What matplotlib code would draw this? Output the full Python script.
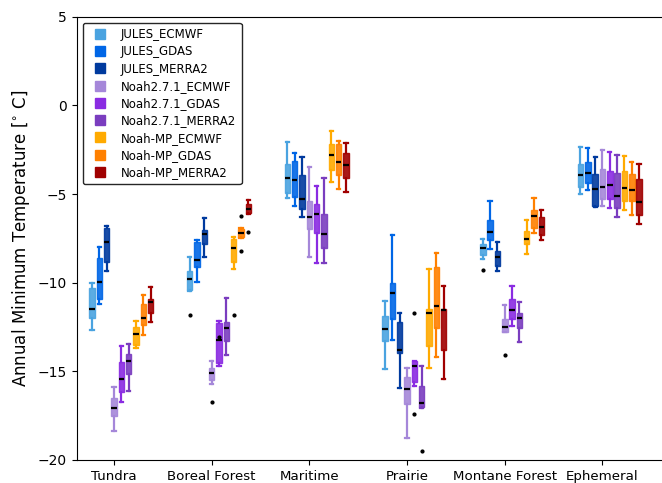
import matplotlib
matplotlib.use("Agg")
import matplotlib.pyplot as plt
from matplotlib.lines import Line2D

regions = ['Tundra', 'Boreal Forest', 'Maritime', 'Prairie', 'Montane Forest', 'Ephemeral']
series = ['JULES_ECMWF', 'JULES_GDAS', 'JULES_MERRA2',
          'Noah2.7.1_ECMWF', 'Noah2.7.1_GDAS', 'Noah2.7.1_MERRA2',
          'Noah-MP_ECMWF', 'Noah-MP_GDAS', 'Noah-MP_MERRA2']
colors = ['#4aa3e0', '#0066e6', '#003a9e',
          '#a587d9', '#8a2be2', '#7a3dbf',
          '#ffaa00', '#ff8000', '#a00000']

# (whisker low, q1, median, q3, whisker high) for each region
jules_ecmwf = [(-12.70, -12.00, -11.48, -10.31, -10.03),
               (-10.45, -10.41, -9.79, -9.33, -8.53),
               (-5.23, -4.95, -4.07, -3.30, -2.05),
               (-14.86, -13.27, -12.61, -11.86, -11.01),
               (-8.66, -8.43, -8.05, -7.83, -7.53),
               (-4.99, -4.61, -3.92, -3.31, -2.32)]
jules_gdas = [(-11.20, -10.91, -9.99, -8.62, -7.96),
              (-9.99, -9.09, -8.73, -7.68, -7.62),
              (-5.70, -5.14, -4.22, -3.14, -2.69),
              (-13.23, -12.06, -10.59, -10.03, -7.30),
              (-8.09, -7.58, -7.15, -6.46, -5.38),
              (-4.76, -4.35, -3.82, -3.17, -2.41)]
jules_merra2 = [(-9.33, -8.86, -7.72, -6.93, -6.79),
                (-8.58, -7.83, -7.26, -7.02, -6.36),
                (-6.30, -5.84, -5.27, -3.93, -2.88),
                (-15.94, -13.98, -13.79, -12.23, -11.72),
                (-9.33, -9.05, -8.58, -8.21, -7.68),
                (-5.74, -5.65, -4.71, -3.86, -2.92)]
noah_ecmwf = [(-18.40, -17.52, -17.07, -16.52, -15.90),
              (-15.73, -15.49, -15.09, -14.83, -14.41),
              (-8.56, -6.96, -6.27, -5.38, -3.45),
              (-18.78, -16.86, -15.99, -15.30, -14.83),
              (-12.80, -12.76, -12.48, -12.06, -11.25),
              (-5.67, -5.27, -4.61, -3.58, -2.51)]
noah_gdas = [(-16.75, -16.20, -15.43, -14.49, -13.55),
             (-14.73, -14.51, -13.26, -12.29, -12.19),
             (-8.90, -7.21, -6.15, -5.57, -4.52),
             (-15.86, -15.58, -14.73, -14.45, -14.40),
             (-12.42, -12.06, -11.54, -10.93, -10.18),
             (-5.80, -5.27, -4.46, -3.67, -2.64)]
noah_merra2 = [(-16.09, -15.16, -14.45, -14.02, -13.45),
               (-14.07, -13.32, -12.55, -12.23, -10.87),
               (-8.90, -8.05, -7.26, -6.13, -4.10),
               (-17.05, -17.03, -16.77, -15.86, -14.73),
               (-13.36, -12.57, -11.97, -11.69, -11.07),
               (-6.27, -5.76, -5.10, -3.79, -2.79)]
mp_ecmwf = [(-13.70, -13.51, -12.91, -12.51, -12.17),
            (-9.22, -8.86, -8.02, -7.55, -7.40),
            (-4.33, -3.63, -2.77, -2.18, -1.43),
            (-14.79, -13.60, -11.72, -11.48, -9.24),
            (-8.39, -7.83, -7.51, -7.08, -6.49),
            (-5.89, -5.37, -4.67, -3.67, -2.83)]
mp_gdas = [(-12.93, -12.40, -12.00, -11.21, -10.69),
           (-7.49, -7.43, -7.21, -6.98, -6.92),
           (-4.71, -3.93, -3.18, -2.18, -2.00),
           (-14.17, -12.55, -11.29, -9.14, -8.32),
           (-7.21, -6.93, -6.23, -5.89, -5.23),
           (-6.17, -5.37, -4.76, -3.86, -3.17)]
mp_merra2 = [(-12.23, -11.69, -11.12, -10.93, -10.27),
             (-6.10, -6.08, -5.85, -5.57, -5.33),
             (-4.89, -4.12, -3.35, -2.66, -2.13),
             (-15.45, -13.78, -11.54, -11.48, -10.20),
             (-7.62, -7.30, -6.85, -6.30, -5.89),
             (-6.70, -6.17, -5.42, -4.14, -3.30)]
all_stats = [jules_ecmwf, jules_gdas, jules_merra2,
             noah_ecmwf, noah_gdas, noah_merra2,
             mp_ecmwf, mp_gdas, mp_merra2]

# outliers: (series index, region index, value)
outliers = [(0, 1, -11.85), (4, 1, -13.04), (3, 1, -16.71),
            (6, 1, -11.85), (7, 1, -6.23), (7, 1, -8.20), (8, 1, -7.13),
            (4, 3, -11.69), (4, 3, -17.42), (5, 3, -19.53),
            (0, 4, -9.31), (3, 4, -14.11)]

step = 0.075
width = 0.056

fig = plt.figure(figsize=(6.62, 4.83), dpi=100)
ax = fig.add_axes([0.116, 0.048, 0.89, 0.917])

for j, (stats, c) in enumerate(zip(all_stats, colors)):
    bstats = []
    for g, (lo, q1, med, q3, hi) in enumerate(stats):
        fl = [v for (s, r, v) in outliers if s == j and r == g]
        bstats.append(dict(whislo=lo, q1=q1, med=med, q3=q3, whishi=hi, fliers=fl))
    pos = [g + (j - 3) * step for g in range(len(regions))]
    ax.bxp(bstats, positions=pos, widths=width, patch_artist=True,
           boxprops=dict(facecolor=c, edgecolor=c, linewidth=1, alpha=0.9),
           whiskerprops=dict(color=c, linewidth=1.6),
           capprops=dict(color=c, linewidth=1.6),
           medianprops=dict(color='black', linewidth=1.6),
           flierprops=dict(marker='o', markerfacecolor='black', markeredgecolor='black',
                           markersize=2),
           capwidths=width * 0.6, manage_ticks=False)

ax.set_xlim(-0.381, 5.65)
ax.set_ylim(-20, 5)
ax.set_xticks(range(len(regions)))
ax.set_xticklabels(regions, fontsize=9.6)
ax.set_yticks([5, 0, -5, -10, -15, -20])
ax.tick_params(axis='y', labelsize=10)
ax.set_ylabel('Annual Minimum Temperature [$^{\\circ}$ C]', fontsize=12)
ax.spines['right'].set_visible(False)

handles = [Line2D([], [], marker='s', linestyle='none', color=c, markersize=7) for c in colors]
leg = ax.legend(handles, series, loc='upper left', fontsize=8.5, handletextpad=0.8,
                borderpad=0.45, labelspacing=0.36)
leg.get_frame().set_edgecolor('0.15')
leg.get_frame().set_alpha(1)

plt.savefig('out.png', dpi=100)
